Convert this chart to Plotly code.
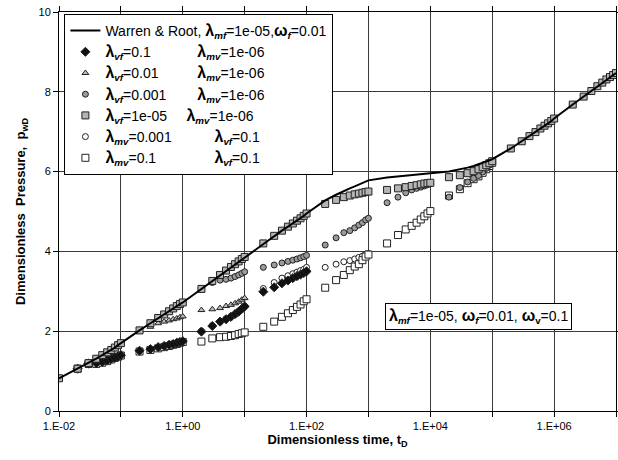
import plotly.graph_objects as go

# ---------------- data ----------------
T = [1e-2,
     2e-2, 3e-2, 4e-2, 5e-2, 6e-2, 7e-2, 8e-2, 9e-2, 1e-1,
     2e-1, 3e-1, 4e-1, 5e-1, 6e-1, 7e-1, 8e-1, 9e-1, 1e0,
     2e0, 3e0, 4e0, 5e0, 6e0, 7e0, 8e0, 9e0, 1e1,
     2e1, 3e1, 4e1, 5e1, 6e1, 7e1, 8e1, 9e1, 1e2,
     2e2, 3e2, 4e2, 5e2, 6e2, 7e2, 8e2, 9e2, 1e3,
     2e3, 3e3, 4e3, 5e3, 6e3, 7e3, 8e3, 9e3, 1e4,
     2e4, 3e4, 4e4, 5e4, 6e4, 7e4, 8e4, 9e4, 1e5,
     2e5, 3e5, 4e5, 5e5, 6e5, 7e5, 8e5, 9e5, 1e6,
     2e6, 3e6, 4e6, 5e6, 6e6, 7e6, 8e6, 9e6, 1e7]

N = None

WARREN_ROOT = [0.82,
    1.06, 1.20, 1.31, 1.40, 1.47, 1.53, 1.59, 1.65, 1.70,
    2.02, 2.20, 2.33, 2.42, 2.50, 2.57, 2.63, 2.68, 2.72,
    3.06, 3.26, 3.41, 3.52, 3.61, 3.68, 3.75, 3.81, 3.86,
    4.20, 4.39, 4.52, 4.62, 4.70, 4.77, 4.83, 4.89, 4.95,
    5.28, 5.42, 5.52, 5.58, 5.63, 5.68, 5.72, 5.75, 5.78,
    5.85, 5.88, 5.90, 5.92, 5.93, 5.94, 5.95, 5.95, 5.96,
    6.00, 6.05, 6.10, 6.14, 6.18, 6.22, 6.25, 6.28, 6.31,
    6.58, 6.76, 6.89, 6.99, 7.08, 7.15, 7.21, 7.27, 7.33,
    7.68, 7.88, 8.02, 8.14, 8.23, 8.31, 8.37, 8.42, 8.47]

# lambda_vf = 0.1, lambda_mv = 1e-06 (filled diamonds)
VF_0_1 = [N,
    1.06, 1.19, 1.20, 1.23, 1.27, 1.31, 1.34, 1.37, 1.40,
    1.51, 1.55, 1.60, 1.63, 1.66, 1.68, 1.71, 1.73, 1.75,
    1.99, 2.13, 2.24, 2.30, 2.36, 2.43, 2.49, 2.56, 2.62,
    2.99, 3.10, 3.20, 3.27, 3.33, 3.38, 3.42, 3.46, 3.50,
    N, N, N, N, N, N, N, N, N,
    N, N, N, N, N, N, N, N, N,
    N, N, N, N, N, N, N, N, N,
    N, N, N, N, N, N, N, N, N,
    N, N, N, N, N, N, N, N, N]

# lambda_vf = 0.01, lambda_mv = 1e-06 (triangles)
VF_0_01 = [N,
    N, N, N, N, N, N, N, N, N,
    2.00, 2.11, 2.20, 2.24, 2.27, 2.30, 2.32, 2.35, 2.37,
    2.53, 2.55, 2.58, 2.63, 2.66, 2.70, 2.74, 2.79, 2.83,
    N, N, N, N, N, N, N, N, N,
    N, N, N, N, N, N, N, N, N,
    N, N, N, N, N, N, N, N, N,
    N, N, N, N, N, N, N, N, N,
    N, N, N, N, N, N, N, N, N,
    N, N, N, N, N, N, N, N, N]

# lambda_vf = 0.001, lambda_mv = 1e-06 (grey circles)
VF_0_001 = [N,
    1.06, 1.20, 1.31, 1.40, 1.47, 1.53, 1.59, 1.65, 1.70,
    2.02, 2.20, 2.33, 2.42, 2.50, 2.57, 2.63, 2.68, 2.72,
    3.06, 3.22, 3.28, 3.30, 3.33, 3.37, 3.41, 3.45, 3.49,
    3.60, 3.66, 3.71, 3.75, 3.78, 3.81, 3.84, 3.87, 3.90,
    4.16, 4.34, 4.47, 4.52, 4.59, 4.66, 4.72, 4.79, 4.83,
    5.22, 5.36, 5.47, 5.54, 5.58, 5.61, 5.64, 5.67, 5.70,
    5.36, 5.60, 5.74, 5.83, 5.90, 5.99, 6.08, 6.16, 6.24,
    6.58, 6.76, 6.89, 6.99, 7.08, 7.15, 7.21, 7.27, 7.33,
    7.68, 7.88, 8.02, 8.14, 8.23, 8.31, 8.37, 8.42, 8.47]

# lambda_vf = 1e-05, lambda_mv = 1e-06 (grey squares)
VF_1E_05 = [0.82,
    1.06, 1.20, 1.31, 1.40, 1.47, 1.53, 1.59, 1.65, 1.70,
    2.02, 2.20, 2.33, 2.42, 2.50, 2.57, 2.63, 2.68, 2.72,
    3.06, 3.26, 3.41, 3.52, 3.61, 3.68, 3.75, 3.81, 3.86,
    4.20, 4.39, 4.52, 4.62, 4.70, 4.77, 4.83, 4.89, 4.95,
    5.19, 5.29, 5.36, 5.40, 5.43, 5.45, 5.47, 5.49, 5.50,
    5.54, 5.58, 5.61, 5.64, 5.66, 5.68, 5.70, 5.71, 5.72,
    5.86, 5.91, 5.96, 6.01, 6.06, 6.11, 6.16, 6.21, 6.26,
    6.58, 6.76, 6.89, 6.99, 7.08, 7.15, 7.21, 7.27, 7.33,
    7.68, 7.88, 8.02, 8.14, 8.23, 8.31, 8.37, 8.42, 8.47]

# lambda_mv = 0.001, lambda_vf = 0.1 (open circles)
MV_0_001 = [N,
    1.06, 1.19, 1.19, 1.22, 1.26, 1.30, 1.33, 1.36, 1.39,
    1.50, 1.54, 1.58, 1.61, 1.64, 1.67, 1.69, 1.72, 1.74,
    2.00, 2.14, 2.23, 2.31, 2.37, 2.42, 2.50, 2.55, 2.63,
    3.07, 3.22, 3.33, 3.39, 3.44, 3.48, 3.52, 3.55, 3.60,
    3.60, 3.68, 3.74, 3.77, 3.81, 3.85, 3.88, 3.93, 3.95,
    N, N, N, N, N, N, N, N, N,
    N, N, N, N, N, N, N, N, N,
    N, N, N, N, N, N, N, N, N,
    N, N, N, N, N, N, N, N, N]

# lambda_mv = 0.1, lambda_vf = 0.1 (open squares)
MV_0_1 = [N,
    1.06, 1.18, 1.18, 1.21, 1.25, 1.29, 1.33, 1.36, 1.39,
    1.49, 1.53, 1.57, 1.60, 1.63, 1.66, 1.68, 1.71, 1.73,
    1.74, 1.82, 1.85, 1.86, 1.88, 1.90, 1.93, 1.95, 1.97,
    2.11, 2.24, 2.36, 2.45, 2.53, 2.61, 2.67, 2.75, 2.80,
    3.09, 3.28, 3.41, 3.53, 3.62, 3.68, 3.78, 3.87, 3.92,
    4.20, 4.41, 4.55, 4.64, 4.72, 4.80, 4.88, 4.95, 5.01,
    5.40, 5.56, 5.71, 5.81, 5.88, 5.97, 6.06, 6.14, 6.22,
    N, N, N, N, N, N, N, N, N,
    N, N, N, N, N, N, N, N, N]

X_TICK_VALS = [1e-2, 1e-1, 1e0, 1e1, 1e2, 1e3, 1e4, 1e5, 1e6, 1e7]
X_TICK_TEXT = ["1.E-02", "", "1.E+00", "", "1.E+02", "", "1.E+04", "", "1.E+06", ""]
Y_TICK_VALS = [0, 2, 4, 6, 8, 10]

# ---------------- figure ----------------
FONT = "Liberation Sans, Arial, sans-serif"
SP = "\u00a0"

def lam(sub):
    return "<b><span style='font-size:16px'>λ</span></b><sub><b><i>" + sub + "</i></b></sub>"

def om(sub):
    return "<b><span style='font-size:16px'>ω</span></b><sub><b><i>" + sub + "</i></b></sub>"

fig = go.Figure()

def add_markers(y, name, symbol, size, fill, rank):
    fig.add_trace(go.Scatter(
        x=T, y=y, mode="markers", name=name, legendrank=rank,
        marker=dict(symbol=symbol, size=size, color=fill,
                    line=dict(color="#222222", width=1))))

add_markers(MV_0_001, lam("mv") + "=0.001" + SP * 11 + lam("vf") + "=0.1",
            "circle", 6, "white", 6)
add_markers(MV_0_1, lam("mv") + "=0.1" + SP * 15 + lam("vf") + "=0.1",
            "square", 7, "white", 7)
add_markers(VF_0_1, lam("vf") + "=0.1" + SP * 12 + lam("mv") + "=1e-06",
            "diamond", 7, "#111111", 2)
add_markers(VF_0_01, lam("vf") + "=0.01" + SP * 10 + lam("mv") + "=1e-06",
            "triangle-up", 6, "#bbbbbb", 3)
add_markers(VF_0_001, lam("vf") + "=0.001" + SP * 8 + lam("mv") + "=1e-06",
            "circle", 6, "#9a9a9a", 4)
add_markers(VF_1E_05, lam("vf") + "=1e-05" + SP * 5 + lam("mv") + "=1e-06",
            "square", 7, "#b4b4b4", 5)

fig.add_trace(go.Scatter(
    x=T, y=WARREN_ROOT, mode="lines", legendrank=1,
    name="Warren & Root, " + lam("mf") + "=1e-05," + om("f") + "=0.01",
    line=dict(color="black", width=2)))

axis_common = dict(
    showgrid=True, gridcolor="#3a3a3a", gridwidth=1,
    showline=True, linecolor="black", linewidth=1, mirror="ticks",
    ticks="outside", ticklen=5, tickcolor="black",
    tickfont=dict(family=FONT, size=11, color="black"),
    zeroline=False)

fig.update_xaxes(type="log", range=[-2, 7], tickvals=X_TICK_VALS,
                 ticktext=X_TICK_TEXT,
                 title=dict(text="<b>Dimensionless time, t<sub>D</sub></b>",
                            font=dict(family=FONT, size=13, color="black"),
                            standoff=3),
                 **axis_common)
fig.update_yaxes(range=[0, 10], tickvals=Y_TICK_VALS,
                 title=dict(text="<b>Dimensionless" + SP * 2 + "Pressure," + SP * 2 + "p<sub>wD</sub></b>",
                            font=dict(family=FONT, size=13, color="black"),
                            standoff=9),
                 **axis_common)

fig.add_annotation(
    xref="paper", yref="paper", x=0.7524, y=0.2368,
    xanchor="center", yanchor="middle", showarrow=False,
    text=lam("mf") + "=1e-05, " + om("f") + "=0.01, " + "<b><span style='font-size:16px'>ω</span></b><sub><b>v</b></sub>=0.1",
    font=dict(family=FONT, size=14, color="black"),
    bgcolor="white", bordercolor="black", borderwidth=1, borderpad=3)

fig.update_layout(
    width=618, height=460,
    margin=dict(l=59, r=2, t=12, b=49, autoexpand=False),
    paper_bgcolor="white", plot_bgcolor="white",
    font=dict(family=FONT, size=12, color="black"),
    legend=dict(x=0.0097, y=0.995, xanchor="left", yanchor="top",
                bgcolor="white", bordercolor="black", borderwidth=1,
                font=dict(family=FONT, size=14, color="black"),
                tracegroupgap=0, itemwidth=30),
    showlegend=True)

fig.write_html("out.html")
